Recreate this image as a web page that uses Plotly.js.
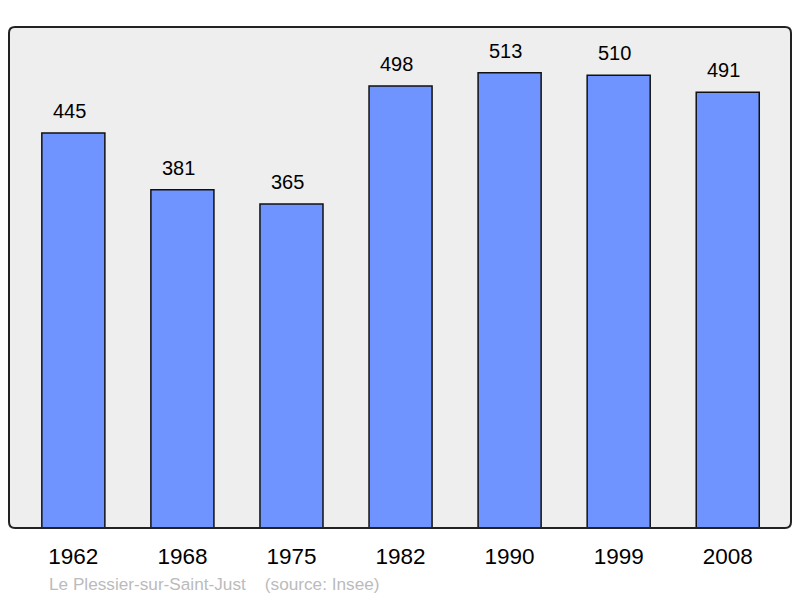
<!DOCTYPE html>
<html><head><meta charset="utf-8">
<script src="https://cdn.plot.ly/plotly-3.0.1.min.js"></script>
<style>html,body{margin:0;padding:0;background:#fff}#c{width:800px;height:598px}</style>
</head><body><div id="c"></div>
<script>
const years = ["1962","1968","1975","1982","1990","1999","2008"];
const population = [445,381,365,498,513,510,491];
const caption = "Le Plessier-sur-Saint-Just    (source: Insee)";

const W=800,H=598,L=9,R=9,T=27,B=70;
const pw=W-L-R, ph=H-T-B, rad=6;
const fx=v=>v/pw, fy=v=>v/ph;
const framePath = `M ${fx(rad)} 1 L ${1-fx(rad)} 1 Q 1 1 1 ${1-fy(rad)} L 1 ${fy(rad)} Q 1 0 ${1-fx(rad)} 0 L ${fx(rad)} 0 Q 0 0 0 ${fy(rad)} L 0 ${1-fy(rad)} Q 0 1 ${fx(rad)} 1 Z`;

const trace = {
  type:'bar', x:years, y:population, width:0.578,
  marker:{color:'#7094FF', line:{color:'#111', width:1.5}},
  hoverinfo:'none'
};
const annotations = years.map((yr,i)=>({
  x:i, y:population[i], xref:'x', yref:'y', text:String(population[i]),
  showarrow:false, yanchor:'bottom', yshift:9, xshift:-4,
  font:{family:'Liberation Sans, Arial, sans-serif', size:20, color:'#000'}
}));
annotations.push({
  xref:'paper', yref:'paper', x:fx(47-L), y:-(584-(H-B))/ph, xanchor:'left', yanchor:'middle',
  text:caption, showarrow:false,
  font:{family:'Liberation Sans, Arial, sans-serif', size:17.2, color:'#BBBBBB'}
});
const layout = {
  width:W, height:H, margin:{l:L,r:R,t:T,b:B,pad:0},
  paper_bgcolor:'#fff', plot_bgcolor:'#EEEEEE',
  showlegend:false,
  xaxis:{type:'category', range:[-0.59,6.58], showgrid:false, zeroline:false, showline:false,
    ticks:'', ticklabelstandoff:12,
    tickfont:{family:'Liberation Sans, Arial, sans-serif', size:22.5, color:'#000'}, fixedrange:true},
  yaxis:{range:[0,564.4], showgrid:false, zeroline:false, showline:false, showticklabels:false, ticks:'', fixedrange:true},
  shapes:[{type:'path', xref:'paper', yref:'paper', path:framePath, line:{color:'#222', width:2}, fillcolor:'rgba(0,0,0,0)', layer:'above'}],
  annotations:annotations
};
Plotly.newPlot('c',[trace],layout,{displayModeBar:false,staticPlot:true});
</script></body></html>
